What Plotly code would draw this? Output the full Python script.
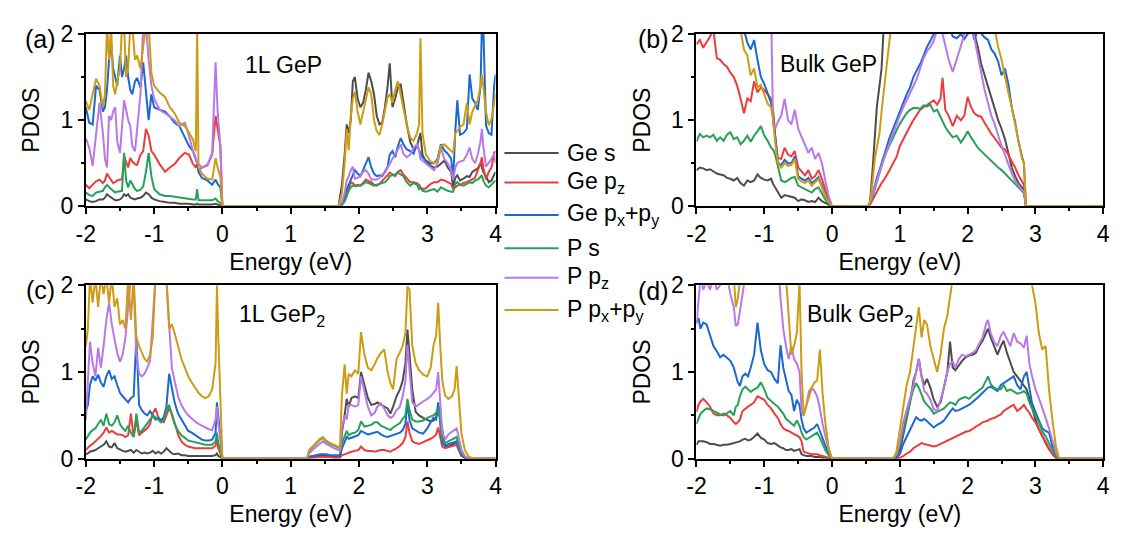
import plotly.graph_objects as go

W, H = 1126, 545
FONT = "Liberation Sans, Arial, sans-serif"

series_names = ["Ge s", "Ge p<sub>z</sub>", "Ge p<sub>x</sub>+p<sub>y</sub>",
                "P s", "P p<sub>z</sub>", "P p<sub>x</sub>+p<sub>y</sub>"]
series_colors = ["#4d4d4d", "#ee3b3b", "#1a69d2", "#28a05a", "#b878e8", "#cd9b14"]

x_tick_vals = [-2, -1, 0, 1, 2, 3, 4]
x_tick_labels = ["-2", "-1", "0", "1", "2", "3", "4"]
x_minor_vals = [-1.5, -0.5, 0.5, 1.5, 2.5, 3.5]
y_tick_vals = [0, 1, 2]
y_tick_labels = ["0", "1", "2"]
y_minor_vals = [0.5, 1.5]

panel_tags = ["(a)", "(b)", "(c)", "(d)"]
panel_titles = ["1L GeP", "Bulk GeP", "1L GeP<sub>2</sub>", "Bulk GeP<sub>2</sub>"]

# ---------------- panel (a): 1L GeP ----------------
a_E_vb = [-2.0, -1.95, -1.9, -1.85, -1.8, -1.75, -1.72, -1.69, -1.66, -1.63, -1.6, -1.57, -1.54, -1.5, -1.47,
          -1.44, -1.41, -1.38, -1.35, -1.32, -1.28, -1.25, -1.2, -1.16, -1.12, -1.08, -1.04, -1.0, -0.92, -0.84,
          -0.77, -0.7, -0.63, -0.55, -0.49, -0.43, -0.39, -0.37, -0.35, -0.3, -0.22, -0.15, -0.1, -0.07, -0.03, 0.0]
a_E_cb = [1.7, 1.75, 1.79, 1.82, 1.85, 1.88, 1.91, 1.94, 1.98, 2.02, 2.06, 2.1, 2.14, 2.18, 2.22, 2.26, 2.3, 2.34,
          2.38, 2.42, 2.45, 2.49, 2.53, 2.57, 2.61, 2.65, 2.7, 2.75, 2.8, 2.85, 2.88, 2.9, 2.93, 2.98, 3.05, 3.1,
          3.15, 3.2, 3.25, 3.3, 3.35, 3.38, 3.41, 3.44, 3.48, 3.53, 3.58, 3.62, 3.66, 3.7, 3.74, 3.78, 3.8, 3.82,
          3.86, 3.9, 3.94, 3.98, 4.0]
a_ge_s_vb = [0.08, 0.06, 0.05, 0.06, 0.08, 0.08, 0.1, 0.14, 0.12, 0.1, 0.08, 0.07, 0.07, 0.08, 0.1, 0.14, 0.12, 0.14,
             0.1, 0.09, 0.08, 0.09, 0.1, 0.12, 0.16, 0.14, 0.1, 0.08, 0.06, 0.05, 0.04, 0.04, 0.03, 0.03, 0.03, 0.02,
             0.02, 0.03, 0.02, 0.02, 0.02, 0.02, 0.03, 0.02, 0.01, 0.0]
a_ge_s_cb = [0.0, 0.25, 0.6, 0.95, 0.85, 1.0, 1.45, 1.5, 1.25, 1.15, 1.2, 1.35, 1.55, 1.45, 1.3, 1.05, 0.95, 0.97,
             1.15, 1.4, 1.66, 1.15, 1.25, 1.38, 1.42, 1.2, 0.95, 0.75, 0.66, 0.7, 0.8, 0.85, 0.6, 0.52, 0.47, 0.45,
             0.46, 0.5, 0.53, 0.45, 0.4, 0.22, 0.33, 0.36, 0.3, 0.32, 0.35, 0.34, 0.4, 0.42, 0.44, 0.5, 0.45, 0.4,
             0.35, 0.28, 0.3, 0.38, 0.4]
a_ge_pz_vb = [0.25, 0.21, 0.25, 0.29, 0.31, 0.27, 0.3, 0.38, 0.34, 0.3, 0.27, 0.28, 0.3, 0.31, 0.31, 0.58, 0.5, 0.45,
              0.56, 0.52, 0.49, 0.48, 0.6, 0.64, 0.9, 0.82, 0.64, 0.6, 0.49, 0.4, 0.45, 0.49, 0.56, 0.62, 0.6, 0.49,
              0.45, 0.5, 0.42, 0.45, 0.48, 0.6, 1.05, 0.9, 0.7, 0.0]
a_ge_pz_cb = [0.0, 0.02, 0.06, 0.13, 0.2, 0.28, 0.27, 0.24, 0.25, 0.24, 0.27, 0.31, 0.29, 0.28, 0.25, 0.24, 0.26,
              0.3, 0.33, 0.36, 0.39, 0.37, 0.35, 0.4, 0.42, 0.37, 0.32, 0.28, 0.28, 0.27, 0.25, 0.22, 0.2, 0.21,
              0.26, 0.28, 0.28, 0.31, 0.3, 0.28, 0.26, 0.2, 0.22, 0.24, 0.25, 0.27, 0.28, 0.3, 0.31, 0.33, 0.42,
              0.5, 0.57, 0.45, 0.31, 0.4, 0.45, 0.62, 0.64]
a_ge_pxy_vb = [1.15, 0.97, 0.95, 1.4, 1.35, 1.1, 1.15, 1.35, 1.7, 1.9, 1.6, 1.5, 1.4, 1.75, 1.5, 1.6, 1.75, 1.5,
               1.35, 1.3, 1.45, 1.49, 1.38, 1.67, 1.3, 1.0, 1.3, 1.15, 1.12, 1.1, 1.04, 0.97, 0.93, 0.79, 0.7, 0.64,
               0.56, 0.5, 0.4, 0.33, 0.3, 0.25, 0.31, 0.26, 0.22, 0.0]
a_ge_pxy_cb = [0.0, 0.03, 0.1, 0.2, 0.25, 0.3, 0.35, 0.42, 0.38, 0.35, 0.42, 0.5, 0.57, 0.45, 0.38, 0.35, 0.36,
               0.35, 0.4, 0.46, 0.6, 0.64, 0.57, 0.7, 0.79, 0.72, 0.66, 0.64, 0.61, 0.72, 0.65, 0.61, 0.57, 0.53,
               0.5, 0.5, 0.55, 0.72, 0.65, 0.61, 0.55, 0.3, 0.87, 1.23, 0.83, 0.85, 0.9, 1.53, 1.25, 1.2, 1.12,
               1.4, 2.1, 2.1, 0.94, 0.85, 0.83, 1.4, 1.53]
a_p_s_vb = [0.16, 0.13, 0.12, 0.16, 0.17, 0.18, 0.22, 0.25, 0.22, 0.2, 0.17, 0.16, 0.17, 0.18, 0.18, 0.62, 0.3,
            0.22, 0.3, 0.26, 0.2, 0.18, 0.19, 0.23, 0.4, 0.62, 0.35, 0.2, 0.14, 0.12, 0.12, 0.11, 0.1, 0.09, 0.08,
            0.08, 0.08, 0.2, 0.07, 0.07, 0.07, 0.07, 0.09, 0.06, 0.04, 0.0]
a_p_s_cb = [0.0, 0.02, 0.06, 0.13, 0.18, 0.22, 0.24, 0.23, 0.24, 0.24, 0.26, 0.28, 0.27, 0.25, 0.24, 0.25, 0.26,
            0.27, 0.28, 0.31, 0.35, 0.36, 0.37, 0.39, 0.37, 0.35, 0.28, 0.24, 0.27, 0.25, 0.2, 0.22, 0.18, 0.17,
            0.19, 0.2, 0.17, 0.22, 0.2, 0.18, 0.17, 0.17, 0.26, 0.28, 0.25, 0.24, 0.26, 0.28, 0.27, 0.3, 0.31,
            0.35, 0.36, 0.3, 0.24, 0.22, 0.25, 0.28, 0.3]
a_p_pz_vb = [0.79, 0.68, 0.47, 0.8, 1.2, 0.85, 0.55, 0.45, 1.05, 1.0, 1.1, 1.15, 0.75, 0.62, 0.93, 1.23, 1.12, 1.0,
             0.93, 0.7, 0.64, 0.9, 1.3, 2.1, 2.1, 1.7, 1.4, 1.25, 1.12, 1.08, 1.04, 1.0, 0.93, 0.97, 0.82, 0.64,
             0.56, 0.5, 0.49, 0.45, 0.47, 0.62, 1.67, 1.1, 0.7, 0.0]
a_p_pz_cb = [0.0, 0.05, 0.15, 0.3, 0.35, 0.42, 0.46, 0.32, 0.33, 0.35, 0.4, 0.42, 0.38, 0.31, 0.31, 0.31, 0.33,
             0.37, 0.39, 0.45, 0.5, 0.55, 0.61, 0.66, 0.72, 0.61, 0.57, 0.6, 0.68, 0.72, 0.65, 0.55, 0.53, 0.5,
             0.45, 0.42, 0.5, 0.68, 0.55, 0.5, 0.42, 0.31, 0.45, 0.5, 0.52, 0.53, 0.6, 0.68, 0.55, 0.5, 0.6, 0.76,
             0.9, 0.7, 0.46, 0.5, 0.55, 0.61, 0.5]
a_p_pxy_vb = [1.22, 1.12, 1.3, 1.48, 1.4, 1.15, 1.3, 2.1, 1.7, 2.1, 1.4, 1.3, 1.45, 1.6, 2.1, 2.1, 1.5, 1.6, 2.1,
              2.1, 1.7, 1.75, 1.6, 1.85, 2.1, 2.1, 1.55, 1.4, 1.32, 1.27, 1.15, 1.08, 0.97, 0.93, 0.86, 0.77, 0.64,
              2.1, 0.45, 0.38, 0.32, 0.31, 0.56, 0.45, 0.34, 0.0]
a_p_pxy_cb = [0.0, 0.15, 0.5, 0.9, 0.65, 1.05, 1.25, 1.33, 1.1, 0.95, 1.1, 1.25, 1.38, 1.3, 1.0, 0.87, 0.83, 0.95,
              1.1, 1.27, 1.3, 1.2, 1.35, 1.45, 1.3, 1.15, 0.94, 0.8, 0.76, 0.85, 0.95, 1.95, 0.85, 0.6, 0.52, 0.5,
              0.53, 0.7, 0.72, 0.68, 0.64, 0.62, 0.85, 0.87, 0.92, 0.95, 1.2, 0.95, 1.1, 1.16, 1.23, 1.4, 1.53,
              1.4, 1.1, 0.94, 1.01, 1.2, 1.31]

# ---------------- panel (b): Bulk GeP ----------------
b_E_vb = [-2.0, -1.95, -1.9, -1.85, -1.8, -1.75, -1.7, -1.65, -1.6, -1.55, -1.5, -1.45, -1.4, -1.35, -1.3, -1.25,
          -1.2, -1.15, -1.1, -1.05, -1.0, -0.95, -0.9, -0.87, -0.84, -0.8, -0.75, -0.7, -0.65, -0.6, -0.55, -0.5,
          -0.45, -0.4, -0.35, -0.3, -0.25, -0.2, -0.15, -0.1, -0.05, 0.0]
b_E_cb = [0.53, 0.56, 0.6, 0.63, 0.66, 0.7, 0.73, 0.76, 0.8, 0.85, 0.9, 0.95, 1.0, 1.05, 1.1, 1.15, 1.2, 1.25, 1.3,
          1.35, 1.4, 1.45, 1.5, 1.55, 1.6, 1.63, 1.67, 1.72, 1.78, 1.84, 1.9, 1.95, 2.0, 2.05, 2.1, 2.15, 2.2,
          2.25, 2.3, 2.35, 2.4, 2.45, 2.5, 2.55, 2.6, 2.65, 2.7, 2.75, 2.8, 2.83, 2.86, 2.9, 4.0]
b_ge_s_vb = [0.42, 0.45, 0.44, 0.42, 0.43, 0.4, 0.38, 0.37, 0.36, 0.33, 0.32, 0.3, 0.33, 0.27, 0.24, 0.3, 0.28, 0.3,
             0.37, 0.33, 0.31, 0.3, 0.32, 0.26, 0.22, 0.17, 0.1, 0.13, 0.12, 0.11, 0.1, 0.06, 0.08, 0.07, 0.05,
             0.06, 0.05, 0.1, 0.06, 0.04, 0.02, 0.0]
b_ge_s_cb = [0.0, 0.05, 0.45, 0.8, 1.15, 1.4, 1.6, 2.05, 2.3, 2.3, 2.3, 2.3, 2.3, 2.3, 2.3, 2.3, 2.3, 2.3, 2.3,
             2.3, 2.3, 2.3, 2.3, 2.3, 2.3, 2.3, 2.3, 2.3, 2.3, 2.3, 2.3, 2.3, 2.3, 2.3, 2.0, 1.85, 1.65, 1.52, 1.4,
             1.25, 1.12, 1.0, 0.9, 0.78, 0.62, 0.45, 0.35, 0.27, 0.22, 0.19, 0.0, 0.0, 0.0]
b_ge_pz_vb = [1.88, 1.93, 1.84, 1.9, 1.97, 2.05, 1.72, 1.7, 1.65, 1.62, 1.55, 1.5, 1.4, 1.25, 1.08, 1.25, 1.22,
              1.45, 1.32, 1.38, 1.35, 1.3, 1.25, 1.12, 0.82, 0.56, 0.55, 0.68, 0.6, 0.58, 0.64, 0.45, 0.4, 0.36,
              0.42, 0.32, 0.35, 0.42, 0.32, 0.18, 0.07, 0.0]
b_ge_pz_cb = [0.0, 0.02, 0.08, 0.12, 0.17, 0.23, 0.27, 0.3, 0.35, 0.42, 0.5, 0.57, 0.7, 0.78, 0.86, 0.93, 1.0,
              1.06, 1.12, 1.15, 1.18, 1.2, 1.23, 1.18, 1.25, 1.49, 1.12, 1.05, 0.93, 1.05, 1.0, 1.05, 1.27, 1.15,
              1.08, 1.05, 1.04, 0.97, 0.9, 0.84, 0.79, 0.74, 0.68, 0.66, 0.6, 0.52, 0.45, 0.36, 0.28, 0.25, 0.0,
              0.0, 0.0]
b_ge_pxy_vb = [2.3, 2.3, 2.3, 2.3, 2.3, 2.3, 2.3, 2.3, 2.3, 2.3, 2.3, 2.3, 2.3, 2.3, 2.05, 1.9, 1.82, 1.93, 1.7,
               1.5, 1.42, 1.32, 1.2, 1.08, 0.8, 0.5, 0.48, 0.54, 0.5, 0.5, 0.58, 0.35, 0.32, 0.3, 0.33, 0.27, 0.3,
               0.34, 0.24, 0.13, 0.05, 0.0]
b_ge_pxy_cb = [0.0, 0.05, 0.15, 0.26, 0.33, 0.42, 0.5, 0.57, 0.66, 0.8, 0.9, 1.0, 1.12, 1.2, 1.3, 1.38, 1.5, 1.58,
               1.65, 1.75, 1.85, 1.92, 2.0, 2.05, 2.3, 2.1, 2.0, 2.1, 1.97, 1.95, 2.0, 1.94, 2.0, 2.1, 1.93, 2.05,
               2.0, 1.96, 1.93, 1.82, 1.77, 1.68, 1.52, 1.6, 1.42, 1.15, 0.98, 0.75, 0.58, 0.5, 0.0, 0.0, 0.0]
b_p_s_vb = [0.75, 0.84, 0.8, 0.82, 0.8, 0.83, 0.76, 0.8, 0.76, 0.83, 0.86, 0.78, 0.8, 0.72, 0.76, 0.82, 0.75, 0.82,
            0.87, 0.93, 0.82, 0.76, 0.68, 0.66, 0.6, 0.45, 0.3, 0.28, 0.3, 0.33, 0.34, 0.24, 0.22, 0.2, 0.18, 0.16,
            0.2, 0.22, 0.15, 0.08, 0.03, 0.0]
b_p_s_cb = [0.0, 0.03, 0.12, 0.2, 0.3, 0.4, 0.48, 0.55, 0.63, 0.72, 0.8, 0.88, 0.96, 1.02, 1.08, 1.12, 1.14, 1.14,
            1.13, 1.17, 1.16, 1.18, 1.1, 1.12, 1.04, 1.0, 0.92, 0.86, 0.8, 0.82, 0.74, 0.8, 0.87, 0.8, 0.74, 0.68,
            0.64, 0.6, 0.56, 0.52, 0.49, 0.45, 0.42, 0.38, 0.35, 0.3, 0.26, 0.22, 0.18, 0.15, 0.0, 0.0, 0.0]
b_p_pz_vb = [2.3, 2.3, 2.3, 2.3, 2.3, 2.3, 2.3, 2.3, 2.3, 2.3, 2.3, 2.3, 2.3, 2.3, 2.3, 2.3, 2.3, 2.3, 2.3, 2.3,
             2.3, 2.3, 2.3, 0.95, 0.9, 0.98, 1.05, 1.25, 1.0, 0.95, 1.12, 0.9, 0.8, 0.72, 0.62, 0.68, 0.55, 0.62,
             0.5, 0.3, 0.12, 0.0]
b_p_pz_cb = [0.0, 0.05, 0.14, 0.22, 0.3, 0.4, 0.47, 0.53, 0.62, 0.74, 0.85, 0.95, 1.06, 1.15, 1.23, 1.32, 1.4,
             1.48, 1.6, 1.72, 1.8, 1.85, 1.92, 2.05, 2.1, 2.0, 1.85, 1.7, 1.56, 1.7, 1.86, 2.0, 2.05, 2.1, 1.95,
             1.75, 1.52, 1.35, 1.2, 1.05, 0.95, 0.82, 0.7, 0.6, 0.48, 0.38, 0.3, 0.24, 0.19, 0.17, 0.0, 0.0, 0.0]
b_p_pxy_vb = [2.3, 2.3, 2.3, 2.3, 2.3, 2.3, 2.3, 2.3, 2.3, 2.3, 2.3, 2.3, 2.3, 2.05, 1.82, 1.75, 1.52, 1.6, 1.38,
              1.41, 1.3, 1.19, 1.15, 1.0, 0.75, 0.5, 0.45, 0.5, 0.47, 0.48, 0.55, 0.32, 0.29, 0.27, 0.3, 0.24,
              0.28, 0.32, 0.22, 0.12, 0.05, 0.0]
b_p_pxy_cb = [0.0, 0.05, 0.3, 0.55, 0.68, 0.85, 1.1, 1.3, 1.55, 1.9, 2.3, 2.3, 2.3, 2.3, 2.3, 2.3, 2.3, 2.3, 2.3,
              2.3, 2.3, 2.3, 2.3, 2.3, 2.3, 2.3, 2.3, 2.3, 2.3, 2.3, 2.3, 2.3, 2.3, 2.3, 2.3, 2.3, 2.3, 2.3, 2.3,
              2.3, 2.05, 1.85, 1.7, 1.5, 1.32, 1.15, 0.95, 0.75, 0.56, 0.5, 0.0, 0.0, 0.0]

# ---------------- panel (c): 1L GeP2 ----------------
c_E_vb = [-2.0, -1.97, -1.94, -1.9, -1.86, -1.82, -1.78, -1.74, -1.7, -1.66, -1.62, -1.58, -1.54, -1.5, -1.46,
          -1.42, -1.38, -1.34, -1.3, -1.26, -1.22, -1.18, -1.14, -1.1, -1.06, -1.02, -0.98, -0.94, -0.9, -0.86,
          -0.82, -0.78, -0.74, -0.7, -0.65, -0.6, -0.55, -0.5, -0.45, -0.4, -0.35, -0.3, -0.25, -0.2, -0.15,
          -0.1, -0.08, -0.06, -0.03, 0.0]
c_E_cb = [1.24, 1.27, 1.32, 1.38, 1.43, 1.47, 1.52, 1.58, 1.64, 1.7, 1.72, 1.73, 1.75, 1.79, 1.82, 1.85, 1.89,
          1.94, 1.99, 2.03, 2.08, 2.13, 2.18, 2.23, 2.27, 2.32, 2.37, 2.42, 2.46, 2.5, 2.55, 2.6, 2.64, 2.68, 2.71,
          2.74, 2.78, 2.83, 2.88, 2.94, 3.0, 3.05, 3.09, 3.13, 3.16, 3.19, 3.22, 3.26, 3.31, 3.36, 3.4, 3.43,
          3.46, 3.5, 3.55, 3.6, 3.65, 3.7, 4.0]
c_ge_s_vb = [0.05, 0.06, 0.08, 0.09, 0.1, 0.12, 0.14, 0.16, 0.2, 0.14, 0.13, 0.18, 0.12, 0.1, 0.09, 0.08, 0.09,
             0.1, 0.07, 0.1, 0.08, 0.06, 0.07, 0.06, 0.07, 0.09, 0.06, 0.08, 0.06, 0.08, 0.12, 0.09, 0.06, 0.05,
             0.06, 0.04, 0.04, 0.03, 0.03, 0.03, 0.03, 0.03, 0.03, 0.03, 0.03, 0.04, 0.06, 0.03, 0.02, 0.0]
c_ge_s_cb = [0.0, 0.02, 0.03, 0.03, 0.04, 0.04, 0.03, 0.03, 0.03, 0.02, 0.02, 0.1, 0.3, 0.5, 0.69, 0.6, 0.7, 0.72,
             0.7, 1.0, 0.86, 0.7, 0.62, 0.63, 0.65, 0.62, 0.6, 0.58, 0.52, 0.6, 0.72, 0.8, 0.9, 1.1, 1.49, 1.2,
             0.8, 0.54, 0.5, 0.47, 0.45, 0.43, 0.44, 0.48, 0.6, 0.45, 0.3, 0.15, 0.14, 0.16, 0.18, 0.2, 0.15, 0.05,
             0.01, 0.0, 0.0, 0.0, 0.0]
c_ge_pz_vb = [0.1, 0.13, 0.15, 0.17, 0.2, 0.22, 0.26, 0.3, 0.36, 0.3, 0.32, 0.3, 0.28, 0.28, 0.27, 0.25, 0.27,
              0.52, 0.25, 0.45, 0.27, 0.3, 0.32, 0.35, 0.4, 0.52, 0.58, 0.48, 0.44, 0.42, 0.5, 0.58, 0.52, 0.4,
              0.28, 0.2, 0.16, 0.14, 0.13, 0.12, 0.12, 0.12, 0.12, 0.12, 0.12, 0.15, 0.22, 0.12, 0.06, 0.0]
c_ge_pz_cb = [0.0, 0.01, 0.01, 0.02, 0.02, 0.02, 0.02, 0.02, 0.01, 0.01, 0.01, 0.02, 0.04, 0.05, 0.06, 0.07, 0.08,
              0.09, 0.1, 0.14, 0.1, 0.09, 0.09, 0.08, 0.09, 0.1, 0.1, 0.09, 0.08, 0.1, 0.12, 0.15, 0.18, 0.25,
              0.43, 0.3, 0.2, 0.18, 0.17, 0.19, 0.21, 0.23, 0.25, 0.28, 0.36, 0.25, 0.14, 0.12, 0.13, 0.14, 0.15,
              0.16, 0.1, 0.03, 0.01, 0.0, 0.0, 0.0, 0.0]
c_ge_pxy_vb = [0.55, 0.62, 0.85, 0.95, 0.9, 0.97, 0.88, 0.83, 0.95, 1.02, 0.92, 0.95, 0.85, 0.76, 0.72, 0.68,
               0.65, 0.7, 0.72, 1.4, 0.62, 0.56, 0.52, 0.5, 0.55, 0.5, 0.45, 0.47, 0.44, 0.48, 0.6, 0.98, 0.8,
               0.65, 0.52, 0.45, 0.38, 0.32, 0.3, 0.27, 0.24, 0.22, 0.21, 0.21, 0.22, 0.3, 0.65, 0.45, 0.25, 0.0]
c_ge_pxy_cb = [0.0, 0.02, 0.03, 0.04, 0.05, 0.05, 0.05, 0.04, 0.04, 0.04, 0.03, 0.05, 0.12, 0.2, 0.25, 0.23,
               0.24, 0.25, 0.27, 0.32, 0.3, 0.28, 0.29, 0.3, 0.31, 0.28, 0.26, 0.25, 0.26, 0.27, 0.28, 0.3, 0.33,
               0.4, 0.65, 0.45, 0.35, 0.32, 0.3, 0.29, 0.35, 0.42, 0.47, 0.45, 0.65, 0.4, 0.18, 0.15, 0.17, 0.18,
               0.19, 0.2, 0.12, 0.04, 0.01, 0.0, 0.0, 0.0, 0.0]
c_p_s_vb = [0.22, 0.27, 0.3, 0.33, 0.35, 0.4, 0.45, 0.38, 0.52, 0.4, 0.38, 0.42, 0.5, 0.4, 0.35, 0.32, 0.38, 0.3,
            0.25, 0.52, 0.3, 0.32, 0.36, 0.4, 0.45, 0.5, 0.48, 0.45, 0.42, 0.45, 0.55, 0.62, 0.5, 0.4, 0.32, 0.27,
            0.24, 0.21, 0.2, 0.19, 0.18, 0.17, 0.16, 0.16, 0.16, 0.2, 0.3, 0.18, 0.1, 0.0]
c_p_s_cb = [0.0, 0.09, 0.13, 0.18, 0.22, 0.24, 0.2, 0.17, 0.15, 0.13, 0.12, 0.14, 0.18, 0.25, 0.32, 0.27, 0.29,
            0.3, 0.33, 0.43, 0.37, 0.38, 0.39, 0.42, 0.42, 0.38, 0.36, 0.34, 0.33, 0.36, 0.39, 0.41, 0.46, 0.5,
            0.69, 0.56, 0.45, 0.43, 0.43, 0.44, 0.47, 0.49, 0.5, 0.53, 0.58, 0.45, 0.22, 0.18, 0.2, 0.22, 0.24,
            0.25, 0.15, 0.06, 0.02, 0.0, 0.0, 0.0, 0.0]
c_p_pz_vb = [0.45, 0.95, 1.35, 1.1, 0.95, 1.28, 1.05, 1.3, 1.6, 1.8, 1.55, 1.38, 1.22, 1.12, 1.2, 1.4, 1.75, 2.1,
             2.0, 1.2, 0.98, 0.95, 0.98, 1.05, 1.12, 1.6, 2.1, 2.1, 2.1, 2.1, 2.05, 1.5, 1.05, 0.9, 0.72, 0.62,
             0.55, 0.5, 0.46, 0.43, 0.4, 0.38, 0.36, 0.34, 0.33, 0.45, 0.6, 0.4, 0.25, 0.0]
c_p_pz_cb = [0.0, 0.06, 0.1, 0.14, 0.18, 0.2, 0.17, 0.14, 0.12, 0.1, 0.09, 0.12, 0.35, 0.5, 0.45, 0.62, 0.62, 0.6,
             0.62, 0.95, 0.76, 0.6, 0.5, 0.53, 0.6, 0.64, 0.58, 0.5, 0.47, 0.49, 0.56, 0.6, 0.72, 0.9, 1.31, 1.0,
             0.65, 0.6, 0.63, 0.66, 0.69, 0.72, 0.76, 0.8, 1.0, 0.65, 0.3, 0.22, 0.28, 0.31, 0.33, 0.35, 0.25,
             0.1, 0.03, 0.0, 0.0, 0.0, 0.0]
c_p_pxy_vb = [1.3, 1.5, 2.1, 1.8, 2.1, 1.75, 2.1, 1.9, 2.1, 1.8, 2.1, 1.75, 1.85, 1.55, 1.6, 1.5, 2.1, 1.6, 2.1,
              1.4, 1.3, 1.22, 1.15, 1.12, 1.2, 1.4, 2.1, 2.1, 2.1, 2.1, 2.1, 1.5, 1.55, 1.45, 1.3, 1.15, 1.05,
              0.95, 0.88, 0.82, 0.76, 0.72, 0.7, 0.72, 0.8, 1.1, 2.0, 1.4, 0.6, 0.0]
c_p_pxy_cb = [0.0, 0.1, 0.14, 0.19, 0.23, 0.25, 0.21, 0.18, 0.16, 0.14, 0.13, 0.3, 0.73, 1.09, 0.75, 0.98, 0.95,
              1.02, 0.98, 1.46, 1.2, 1.05, 1.02, 1.09, 1.16, 1.22, 1.26, 1.0, 0.87, 0.8, 1.15, 1.23, 1.3, 1.45,
              1.99, 1.95, 1.31, 1.1, 1.02, 0.97, 0.95, 1.05, 1.3, 1.42, 1.8, 1.3, 0.9, 0.73, 0.69, 0.72, 0.8,
              1.07, 0.7, 0.29, 0.1, 0.03, 0.01, 0.0, 0.0]

# ---------------- panel (d): Bulk GeP2 ----------------
d_E_vb = [-2.0, -1.97, -1.94, -1.9, -1.85, -1.8, -1.75, -1.7, -1.65, -1.6, -1.55, -1.5, -1.45, -1.42, -1.39, -1.36,
          -1.32, -1.28, -1.24, -1.2, -1.15, -1.1, -1.05, -1.0, -0.95, -0.9, -0.85, -0.8, -0.76, -0.72, -0.68,
          -0.64, -0.6, -0.56, -0.52, -0.48, -0.45, -0.42, -0.38, -0.34, -0.3, -0.26, -0.22, -0.18, -0.14, -0.1,
          -0.05, 0.0]
d_E_cb = [0.9, 0.95, 1.0, 1.05, 1.1, 1.15, 1.2, 1.24, 1.28, 1.32, 1.36, 1.4, 1.45, 1.5, 1.55, 1.6, 1.65, 1.7,
          1.74, 1.78, 1.82, 1.87, 1.92, 1.97, 2.02, 2.07, 2.12, 2.17, 2.22, 2.27, 2.3, 2.34, 2.39, 2.44, 2.49,
          2.53, 2.58, 2.63, 2.68, 2.73, 2.78, 2.83, 2.87, 2.91, 2.95, 3.0, 3.05, 3.1, 3.15, 3.2, 3.25, 3.3, 3.35,
          4.0]
d_ge_s_vb = [0.16, 0.2, 0.2, 0.2, 0.19, 0.17, 0.17, 0.16, 0.15, 0.16, 0.16, 0.17, 0.18, 0.19, 0.2, 0.2, 0.22, 0.23,
             0.21, 0.22, 0.25, 0.29, 0.24, 0.22, 0.18, 0.17, 0.18, 0.15, 0.13, 0.12, 0.1, 0.1, 0.11, 0.09, 0.1,
             0.11, 0.05, 0.04, 0.03, 0.03, 0.03, 0.02, 0.02, 0.02, 0.01, 0.01, 0.0, 0.0]
d_ge_s_cb = [0.0, 0.03, 0.1, 0.27, 0.45, 0.65, 0.9, 1.0, 1.15, 0.95, 0.85, 0.92, 0.82, 0.68, 0.6, 0.65, 0.82, 1.0,
             1.35, 1.05, 1.02, 1.08, 1.13, 1.17, 1.19, 1.2, 1.22, 1.3, 1.36, 1.45, 1.5, 1.4, 1.3, 1.2, 1.3, 1.36,
             1.22, 1.1, 1.0, 0.95, 0.9, 0.85, 0.8, 0.7, 0.58, 0.45, 0.34, 0.25, 0.18, 0.11, 0.06, 0.01, 0.0, 0.0]
d_ge_pz_vb = [0.54, 0.62, 0.66, 0.69, 0.65, 0.6, 0.52, 0.5, 0.5, 0.52, 0.5, 0.47, 0.42, 0.4, 0.42, 0.45, 0.55,
              0.58, 0.6, 0.62, 0.65, 0.72, 0.7, 0.68, 0.62, 0.58, 0.52, 0.47, 0.4, 0.35, 0.33, 0.32, 0.3, 0.28,
              0.27, 0.25, 0.2, 0.08, 0.07, 0.06, 0.05, 0.05, 0.05, 0.04, 0.03, 0.02, 0.01, 0.0]
d_ge_pz_cb = [0.0, 0.0, 0.01, 0.03, 0.06, 0.08, 0.12, 0.14, 0.15, 0.18, 0.17, 0.16, 0.15, 0.14, 0.15, 0.17, 0.19,
              0.21, 0.22, 0.24, 0.25, 0.27, 0.29, 0.31, 0.32, 0.34, 0.37, 0.39, 0.42, 0.43, 0.44, 0.46, 0.47,
              0.49, 0.51, 0.55, 0.58, 0.6, 0.62, 0.55, 0.58, 0.62, 0.57, 0.53, 0.47, 0.42, 0.34, 0.27, 0.2,
              0.12, 0.05, 0.01, 0.0, 0.0]
d_ge_pxy_vb = [1.57, 1.62, 1.5, 1.57, 1.55, 1.42, 1.3, 1.24, 1.17, 1.2, 1.17, 1.13, 1.05, 0.95, 0.88, 0.84, 0.95,
               0.98, 0.95, 1.05, 1.2, 1.57, 1.25, 1.09, 1.02, 1.0, 0.92, 0.87, 1.31, 1.05, 0.9, 0.78, 0.74, 0.55,
               0.68, 0.62, 0.45, 0.35, 0.3, 0.32, 0.35, 0.36, 0.4, 0.32, 0.22, 0.15, 0.05, 0.0]
d_ge_pxy_cb = [0.0, 0.01, 0.05, 0.17, 0.25, 0.32, 0.4, 0.48, 0.45, 0.44, 0.46, 0.43, 0.4, 0.36, 0.39, 0.41, 0.44,
               0.5, 0.54, 0.58, 0.55, 0.56, 0.58, 0.6, 0.62, 0.65, 0.68, 0.72, 0.76, 0.8, 0.82, 0.83, 0.8, 0.78,
               0.85, 0.87, 0.9, 0.93, 0.95, 0.85, 0.8, 0.95, 1.0, 0.82, 0.64, 0.54, 0.45, 0.35, 0.32, 0.3, 0.15,
               0.04, 0.0, 0.0]
d_p_s_vb = [0.4, 0.47, 0.52, 0.55, 0.58, 0.57, 0.55, 0.53, 0.51, 0.5, 0.53, 0.55, 0.5, 0.6, 0.62, 0.72, 0.8, 0.83,
            0.8, 0.77, 0.8, 0.82, 0.88, 0.8, 0.7, 0.66, 0.63, 0.6, 0.56, 0.52, 0.46, 0.43, 0.41, 0.38, 0.44, 0.38,
            0.3, 0.25, 0.22, 0.24, 0.26, 0.28, 0.3, 0.24, 0.16, 0.1, 0.04, 0.0]
d_p_s_cb = [0.0, 0.05, 0.15, 0.33, 0.5, 0.66, 0.8, 0.87, 0.82, 0.75, 0.66, 0.62, 0.58, 0.52, 0.54, 0.56, 0.58,
            0.62, 0.65, 0.64, 0.62, 0.68, 0.7, 0.71, 0.69, 0.73, 0.76, 0.78, 0.82, 0.9, 0.95, 0.86, 0.82, 0.8,
            0.8, 0.85, 0.78, 0.8, 0.77, 0.75, 0.76, 0.78, 0.75, 0.65, 0.58, 0.5, 0.42, 0.32, 0.26, 0.18, 0.1,
            0.03, 0.0, 0.0]
d_p_pz_vb = [1.55, 1.85, 2.1, 1.95, 2.05, 1.95, 2.1, 1.95, 2.0, 2.1, 2.1, 1.9, 1.75, 1.53, 1.55, 1.7, 1.9, 2.1,
             2.3, 2.3, 2.3, 2.3, 2.3, 2.3, 2.3, 2.3, 2.3, 2.3, 1.85, 1.5, 1.3, 1.15, 1.3, 1.15, 1.1, 1.0, 0.55,
             0.5, 0.62, 0.78, 0.82, 0.78, 0.72, 0.58, 0.4, 0.25, 0.1, 0.0]
d_p_pz_cb = [0.0, 0.05, 0.2, 0.42, 0.55, 0.7, 0.85, 1.0, 1.15, 0.95, 0.78, 0.75, 0.68, 0.57, 0.55, 0.68, 0.82, 1.0,
             1.1, 1.12, 1.05, 1.15, 1.2, 1.18, 1.2, 1.22, 1.25, 1.32, 1.4, 1.55, 1.6, 1.45, 1.35, 1.3, 1.42, 1.46,
             1.38, 1.3, 1.45, 1.35, 1.33, 1.28, 1.42, 1.1, 0.95, 0.8, 0.7, 0.57, 0.47, 0.35, 0.22, 0.08, 0.0, 0.0]
d_p_pxy_vb = [2.3, 2.3, 2.3, 2.3, 2.3, 2.3, 2.3, 2.3, 2.3, 2.3, 2.3, 2.3, 2.1, 1.75, 1.85, 2.1, 2.3, 2.3, 2.3,
              2.3, 2.3, 2.3, 2.3, 2.3, 2.3, 2.3, 2.3, 2.3, 2.3, 2.3, 2.1, 1.6, 1.2, 1.3, 1.45, 2.05, 1.0, 0.5, 0.6,
              0.7, 0.82, 0.88, 0.9, 1.26, 0.75, 0.42, 0.12, 0.0]
d_p_pxy_cb = [0.0, 0.08, 0.35, 0.6, 0.85, 1.0, 1.3, 1.5, 1.75, 1.4, 1.6, 1.55, 1.3, 1.15, 1.0, 1.2, 1.5, 1.65,
              1.85, 2.05, 2.3, 2.3, 2.3, 2.3, 2.3, 2.3, 2.3, 2.3, 2.3, 2.3, 2.3, 2.3, 2.3, 2.3, 2.3, 2.3, 2.3, 2.3,
              2.3, 2.3, 2.3, 2.3, 2.3, 2.3, 2.0, 1.8, 1.45, 1.26, 1.3, 0.8, 0.45, 0.15, 0.0, 0.0]

panels = [
    (a_E_vb + a_E_cb, [a_ge_s_vb + a_ge_s_cb, a_ge_pz_vb + a_ge_pz_cb, a_ge_pxy_vb + a_ge_pxy_cb,
                       a_p_s_vb + a_p_s_cb, a_p_pz_vb + a_p_pz_cb, a_p_pxy_vb + a_p_pxy_cb]),
    (b_E_vb + b_E_cb, [b_ge_s_vb + b_ge_s_cb, b_ge_pz_vb + b_ge_pz_cb, b_ge_pxy_vb + b_ge_pxy_cb,
                       b_p_s_vb + b_p_s_cb, b_p_pz_vb + b_p_pz_cb, b_p_pxy_vb + b_p_pxy_cb]),
    (c_E_vb + c_E_cb, [c_ge_s_vb + c_ge_s_cb, c_ge_pz_vb + c_ge_pz_cb, c_ge_pxy_vb + c_ge_pxy_cb,
                       c_p_s_vb + c_p_s_cb, c_p_pz_vb + c_p_pz_cb, c_p_pxy_vb + c_p_pxy_cb]),
    (d_E_vb + d_E_cb, [d_ge_s_vb + d_ge_s_cb, d_ge_pz_vb + d_ge_pz_cb, d_ge_pxy_vb + d_ge_pxy_cb,
                       d_p_s_vb + d_p_s_cb, d_p_pz_vb + d_p_pz_cb, d_p_pxy_vb + d_p_pxy_cb]),
]
for pi, (E, ys) in enumerate(panels):
    for si, y in enumerate(ys):
        if len(y) != len(E):
            raise ValueError(f"panel {pi} series {si}: {len(y)} vs {len(E)}")

# ---------------- layout (pixel boxes of the four plot areas) ----------------
boxes = [(77, 493, 22, 203), (697, 1110, 22, 203), (77, 493, 286, 468), (697, 1110, 286, 468)]
tag_pos = [(31, 27), (653, 27), (31, 291), (653, 292)]
title_pos = [(237, 55), (780, 54), (230, 318), (807, 318)]
legend_y = [147, 178, 212, 247, 278, 312]
legend_x0, legend_x1, legend_tx = 502, 557, 563

fig = go.Figure()
for pi, (E, ys) in enumerate(panels):
    sfx = "" if pi == 0 else str(pi + 1)
    for si, y in enumerate(ys):
        fig.add_trace(go.Scatter(x=E, y=y, mode="lines", name=series_names[si],
                                 line=dict(color=series_colors[si], width=2),
                                 showlegend=False, xaxis="x" + sfx, yaxis="y" + sfx))

tickfont = dict(family=FONT, size=23, color="black")
layout = dict(width=W, height=H, margin=dict(l=0, r=0, t=0, b=0),
              paper_bgcolor="white", plot_bgcolor="white", showlegend=False)
for pi, (x0, x1, y0, y1) in enumerate(boxes):
    sfx = "" if pi == 0 else str(pi + 1)
    common = dict(showline=True, linecolor="black", linewidth=2, mirror=True, ticks="outside",
                  ticklen=6, tickwidth=1.5, tickcolor="black", showgrid=False, zeroline=False,
                  tickfont=tickfont)
    layout["xaxis" + sfx] = dict(common, domain=[x0 / W, x1 / W], range=[-2, 4],
                                 tickmode="array", tickvals=x_tick_vals, ticktext=x_tick_labels,
                                 minor=dict(tickmode="array", tickvals=x_minor_vals, ticks="outside",
                                            ticklen=3, tickwidth=1.5, tickcolor="black"),
                                 title=dict(text="Energy (eV)", font=tickfont, standoff=8),
                                 anchor="y" + sfx)
    layout["yaxis" + sfx] = dict(common, domain=[1 - y1 / H, 1 - y0 / H], range=[0, 2],
                                 tickmode="array", tickvals=y_tick_vals, ticktext=y_tick_labels,
                                 minor=dict(tickmode="array", tickvals=y_minor_vals, ticks="outside",
                                            ticklen=3, tickwidth=1.5, tickcolor="black"),
                                 title=dict(text="PDOS", font=tickfont, standoff=14),
                                 anchor="x" + sfx)
fig.update_layout(**layout)

annotations = []
for pi in range(4):
    tx, ty = tag_pos[pi]
    annotations.append(dict(text=panel_tags[pi], x=tx / W, y=1 - ty / H, xref="paper", yref="paper",
                            xanchor="center", yanchor="middle", showarrow=False,
                            font=dict(family=FONT, size=25, color="black")))
    lx, ly = title_pos[pi]
    annotations.append(dict(text=panel_titles[pi], x=lx / W, y=1 - ly / H, xref="paper", yref="paper",
                            xanchor="left", yanchor="middle", showarrow=False,
                            font=dict(family=FONT, size=23, color="black")))
shapes = []
for si in range(6):
    yy = 1 - legend_y[si] / H
    shapes.append(dict(type="line", xref="paper", yref="paper", x0=legend_x0 / W, x1=legend_x1 / W,
                       y0=yy, y1=yy, line=dict(color=series_colors[si], width=2)))
    annotations.append(dict(text=series_names[si], x=legend_tx / W, y=yy, xref="paper", yref="paper",
                            xanchor="left", yanchor="middle", showarrow=False,
                            font=dict(family=FONT, size=23, color="black")))
fig.update_layout(annotations=annotations, shapes=shapes)

fig.write_html("out.html")
